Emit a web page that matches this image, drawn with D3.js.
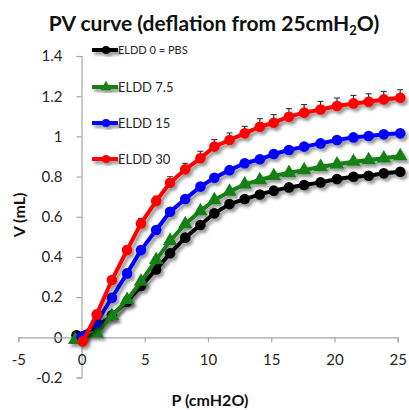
<!DOCTYPE html>
<html>
<head>
<meta charset="utf-8">
<script src="https://cdn.jsdelivr.net/npm/d3@7"></script>
<style>
    body { margin: 0; background: #fff; }
    .axis text { font-family: Lato, "Open Sans", sans-serif; font-size: 15px; fill: #262626; }
    .axis path, .axis line { stroke: #a6a6a6; stroke-width: 1.2; }
    .legend-text { font-family: Lato, "Open Sans", sans-serif; fill: #262626; }
</style>
</head>
<body>
<div id="divChart"></div>
<script>
// pressure (cmH2O) of each deflation step, shared by the groups
var pressure = [0, 1.2, 2.4, 3.6, 4.7, 5.9, 7.0, 8.2, 9.4, 10.5, 11.7, 12.9, 14.1, 15.2, 16.4, 17.6, 18.9, 20.2, 21.5, 22.7, 23.9, 25.2];
// first step pressure differs a bit per group
var firstPressure = [-0.4, -0.5, 0.0, 0.1];

var seriesNames = ["ELDD 0 = PBS", "ELDD 7.5", "ELDD 15", "ELDD 30"];
var seriesColors = ["#000000", "#168016", "#0000ff", "#ff0000"];
var seriesShapes = ["circle", "triangle", "circle", "circle"];

var volPBS = [0.01, 0.05, 0.11, 0.177, 0.255, 0.338, 0.418, 0.496, 0.559, 0.617, 0.663, 0.688, 0.711, 0.730, 0.746, 0.758, 0.771, 0.788, 0.799, 0.804, 0.816, 0.824];
var volELDD75 = [-0.013, 0.02, 0.106, 0.186, 0.277, 0.385, 0.48, 0.564, 0.628, 0.683, 0.725, 0.761, 0.783, 0.803, 0.819, 0.832, 0.849, 0.861, 0.874, 0.882, 0.891, 0.902];
var volELDD15 = [0.003, 0.075, 0.197, 0.318, 0.434, 0.534, 0.625, 0.688, 0.75, 0.794, 0.832, 0.866, 0.886, 0.912, 0.932, 0.949, 0.965, 0.982, 0.995, 1.002, 1.01, 1.015];
var volELDD30 = [-0.02, 0.114, 0.285, 0.434, 0.567, 0.678, 0.769, 0.836, 0.891, 0.949, 0.982, 1.015, 1.048, 1.068, 1.098, 1.118, 1.134, 1.151, 1.164, 1.172, 1.184, 1.192];
// only the ELDD 30 error bars show above the markers
var errELDD30 = [0, 0.01, 0.015, 0.02, 0.025, 0.025, 0.03, 0.03, 0.035, 0.035, 0.035, 0.035, 0.04, 0.04, 0.04, 0.04, 0.04, 0.04, 0.04, 0.04, 0.04, 0.04];

var xTicks = [-5, 0, 5, 10, 15, 20, 25];
var yTicks = [-0.2, 0, 0.2, 0.4, 0.6, 0.8, 1, 1.2, 1.4];

var width = 409, height = 410;

var svg = d3.select("#divChart").append("svg")
    .attr("width", width).attr("height", height);

//soft shadow like the spreadsheet effect
var defs = svg.append("defs");
var shadow = defs.append("filter").attr("id", "shadow")
    .attr("x", "-20%").attr("y", "-20%").attr("width", "150%").attr("height", "150%");
shadow.append("feDropShadow")
    .attr("dx", 2.5).attr("dy", 3).attr("stdDeviation", 1.6)
    .attr("flood-color", "#000").attr("flood-opacity", 0.4);

var x = d3.scaleLinear().domain([-5, 25]).range([18.3, 397.7]);
var y = d3.scaleLinear().domain([-0.2, 1.4]).range([377.5, 56]);

//axes cross at zero
svg.append("g").attr("class", "axis")
    .attr("transform", "translate(" + x(0) + ",0)")
    .call(d3.axisLeft(y).tickValues(yTicks).tickSize(5).tickPadding(14)
        .tickFormat(function (d) { return d3.format("")(+d.toFixed(1)); }));

svg.append("g").attr("class", "axis")
    .attr("transform", "translate(0," + y(0) + ")")
    .call(d3.axisBottom(x).tickValues(xTicks).tickSize(5).tickPadding(12));

svg.selectAll(".axis text").each(function (d) {
    if (d < 0) d3.select(this).text("-" + Math.abs(d));
});

var volumes = [volPBS, volELDD75, volELDD15, volELDD30];
var seriesData = volumes.map(function (vals, s) {
    return vals.map(function (v, i) {
        return { p: i === 0 ? firstPressure[s] : pressure[i], v: v, err: s === 3 ? errELDD30[i] : 0 };
    });
});

var line = d3.line().x(function (d) { return x(d.p); }).y(function (d) { return y(d.v); });

function drawMarker(g, shape, color, cx, cy, r) {
    if (shape === "triangle") {
        g.append("path").attr("d", d3.symbol().type(d3.symbolTriangle).size(r * r * 3.2)())
            .attr("transform", "translate(" + cx + "," + cy + ")")
            .attr("fill", color);
    } else {
        g.append("circle").attr("cx", cx).attr("cy", cy).attr("r", r).attr("fill", color);
    }
}

seriesData.forEach(function (data, s) {
    var g = svg.append("g").attr("filter", "url(#shadow)");

    //error bars drawn under the line
    data.forEach(function (d) {
        if (d.err > 0) {
            g.append("line").attr("x1", x(d.p)).attr("x2", x(d.p))
                .attr("y1", y(d.v)).attr("y2", y(d.v + d.err))
                .attr("stroke", "#222").attr("stroke-width", 1);
            g.append("line").attr("x1", x(d.p) - 3).attr("x2", x(d.p) + 3)
                .attr("y1", y(d.v + d.err)).attr("y2", y(d.v + d.err))
                .attr("stroke", "#222").attr("stroke-width", 1);
        }
    });

    g.append("path").datum(data).attr("d", line)
        .attr("fill", "none").attr("stroke", seriesColors[s])
        .attr("stroke-width", 4).attr("stroke-linejoin", "round");

    data.forEach(function (d) {
        drawMarker(g, seriesShapes[s], seriesColors[s], x(d.p), y(d.v), 5.3);
    });
});

//legend
var legendY = [50, 87, 123, 159];
seriesNames.forEach(function (name, s) {
    var g = svg.append("g").attr("filter", "url(#shadow)");
    g.append("line").attr("x1", 92).attr("x2", 118).attr("y1", legendY[s]).attr("y2", legendY[s])
        .attr("stroke", seriesColors[s]).attr("stroke-width", 4);
    drawMarker(g, seriesShapes[s], seriesColors[s], 106, legendY[s], 4);
    svg.append("text").attr("class", "legend-text")
        .attr("x", 118).attr("y", legendY[s]).attr("dy", "0.35em")
        .style("font-size", s === 0 ? "11px" : "13px")
        .text(name);
});

//title
var title = svg.append("text").attr("x", 214).attr("y", 31)
    .attr("text-anchor", "middle")
    .style("font-family", "Lato, 'Open Sans', sans-serif")
    .style("font-weight", "bold").style("font-size", "21px").style("fill", "#111");
title.append("tspan").text("PV curve (deflation from 25cmH");
title.append("tspan").attr("dy", 4).style("font-size", "13px").text("2");
title.append("tspan").attr("dy", -4).text("O)");

//axis titles
svg.append("text").attr("transform", "translate(25,215) rotate(-90)")
    .attr("text-anchor", "middle")
    .style("font-family", "Lato, 'Open Sans', sans-serif")
    .style("font-weight", "bold").style("font-size", "16px").style("fill", "#111")
    .text("V (mL)");

svg.append("text").attr("x", 210).attr("y", 406)
    .attr("text-anchor", "middle")
    .style("font-family", "Lato, 'Open Sans', sans-serif")
    .style("font-weight", "bold").style("font-size", "16px").style("fill", "#111")
    .text("P (cmH2O)");
</script>
</body>
</html>
